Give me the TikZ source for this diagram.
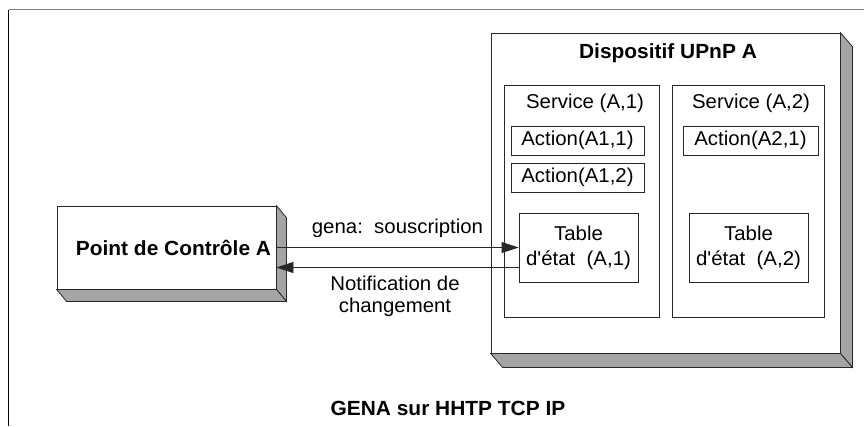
\documentclass[tikz,border=0pt]{standalone}
\usepackage{fontspec}
\setmainfont{Liberation Sans}[FakeStretch=1.02, Ligatures=TeXOff]
\usetikzlibrary{arrows.meta,calc}
\definecolor{shade}{RGB}{165,165,165}
\definecolor{edge}{RGB}{40,40,40}
\tikzset{
  plain/.style={font=\fontsize{20}{24}\selectfont, inner sep=0pt, align=center},
  bold/.style={font=\fontsize{20.5}{24}\selectfont\bfseries, inner sep=0pt, align=center},
  box/.style={draw=edge, line width=0.8pt, fill=white, inner sep=0pt, rectangle},
  shadowface/.style={draw=edge, line width=0.8pt, fill=shade},
  conn/.style={line width=0.8pt, draw=edge, -{Triangle[length=17pt,width=11pt]}},
}
\newcommand{\boxshadow}[3]{% node, dx, dy
  \filldraw[shadowface] (#1.north east) -- ($(#1.north east)+(#2,#3)$) -- ($(#1.south east)+(#2,#3)$) -- (#1.south east) -- cycle;
  \filldraw[shadowface] (#1.south west) -- (#1.south east) -- ($(#1.south east)+(#2,#3)$) -- ($(#1.south west)+(#2,#3)$) -- cycle;
}
\begin{document}
\begin{tikzpicture}[x=1pt,y=-1pt]
\useasboundingbox[fill=white] (0,0) rectangle (864,426);
% frame
\coordinate (fc) at (8.5,9.5);
\coordinate (fr) at (864,9.5);
\coordinate (fb) at (8.5,426);
\draw[line width=1pt, draw=gray] (fc) -- (fr);
\draw[line width=0.8pt] (fc) -- (fb);

% Dispositif
\node[box, minimum width=349pt, minimum height=320pt] (dev) at (665.5,193) {};
\boxshadow{dev}{12}{14}
\node[bold] (devt) at (668,53) {Dispositif UPnP A};

% services
\node[box, minimum width=155pt, minimum height=232pt] (s1) at (581.5,201) {};
\node[box, minimum width=152pt, minimum height=232pt] (s2) at (748,201) {};
\node[plain] (s1t) at (585,103) {Service (A,1)};
\node[plain] (s2t) at (751,103) {Service (A,2)};

% actions
\node[box, minimum width=133pt, minimum height=29pt, plain, draw=edge] (a11) at (577.5,140.5) {Action(A1,1)};
\node[box, minimum width=133pt, minimum height=29pt, plain, draw=edge] (a12) at (577.5,177.5) {Action(A1,2)};
\node[box, minimum width=135pt, minimum height=29pt, plain, draw=edge] (a21) at (750.5,140.5) {Action(A2,1)};

% tables
\node[box, minimum width=119pt, minimum height=69pt, plain, draw=edge, font=\fontsize{20}{25}\selectfont] (t1) at (578.5,247.5) {Table\\d'état\ \ (A,1)};
\node[box, minimum width=119pt, minimum height=69pt, plain, draw=edge, font=\fontsize{20}{25}\selectfont] (t2) at (748.5,247.5) {Table\\d'état\ \ (A,2)};

% control point
\node[box, minimum width=219pt, minimum height=83pt] (pc) at (166.5,247.5) {};
\boxshadow{pc}{10}{12}
\node[bold] (pct) at (173.5,248) {Point de Contrôle A};

% connectors
\draw[conn] (pc.east) -- (t1.west);
\draw[conn] ([yshift=-20pt]t1.west) -- ([yshift=-20pt]pc.east);
\node[plain] (lg) at (397.5,228) {gena:\ \ souscription};
\node[plain, font=\fontsize{20}{22}\selectfont] (ln) at (395,296) {Notification de\\changement};

% caption
\node[bold] (cap) at (448,408) {GENA sur HHTP TCP IP};
\end{tikzpicture}
\end{document}
